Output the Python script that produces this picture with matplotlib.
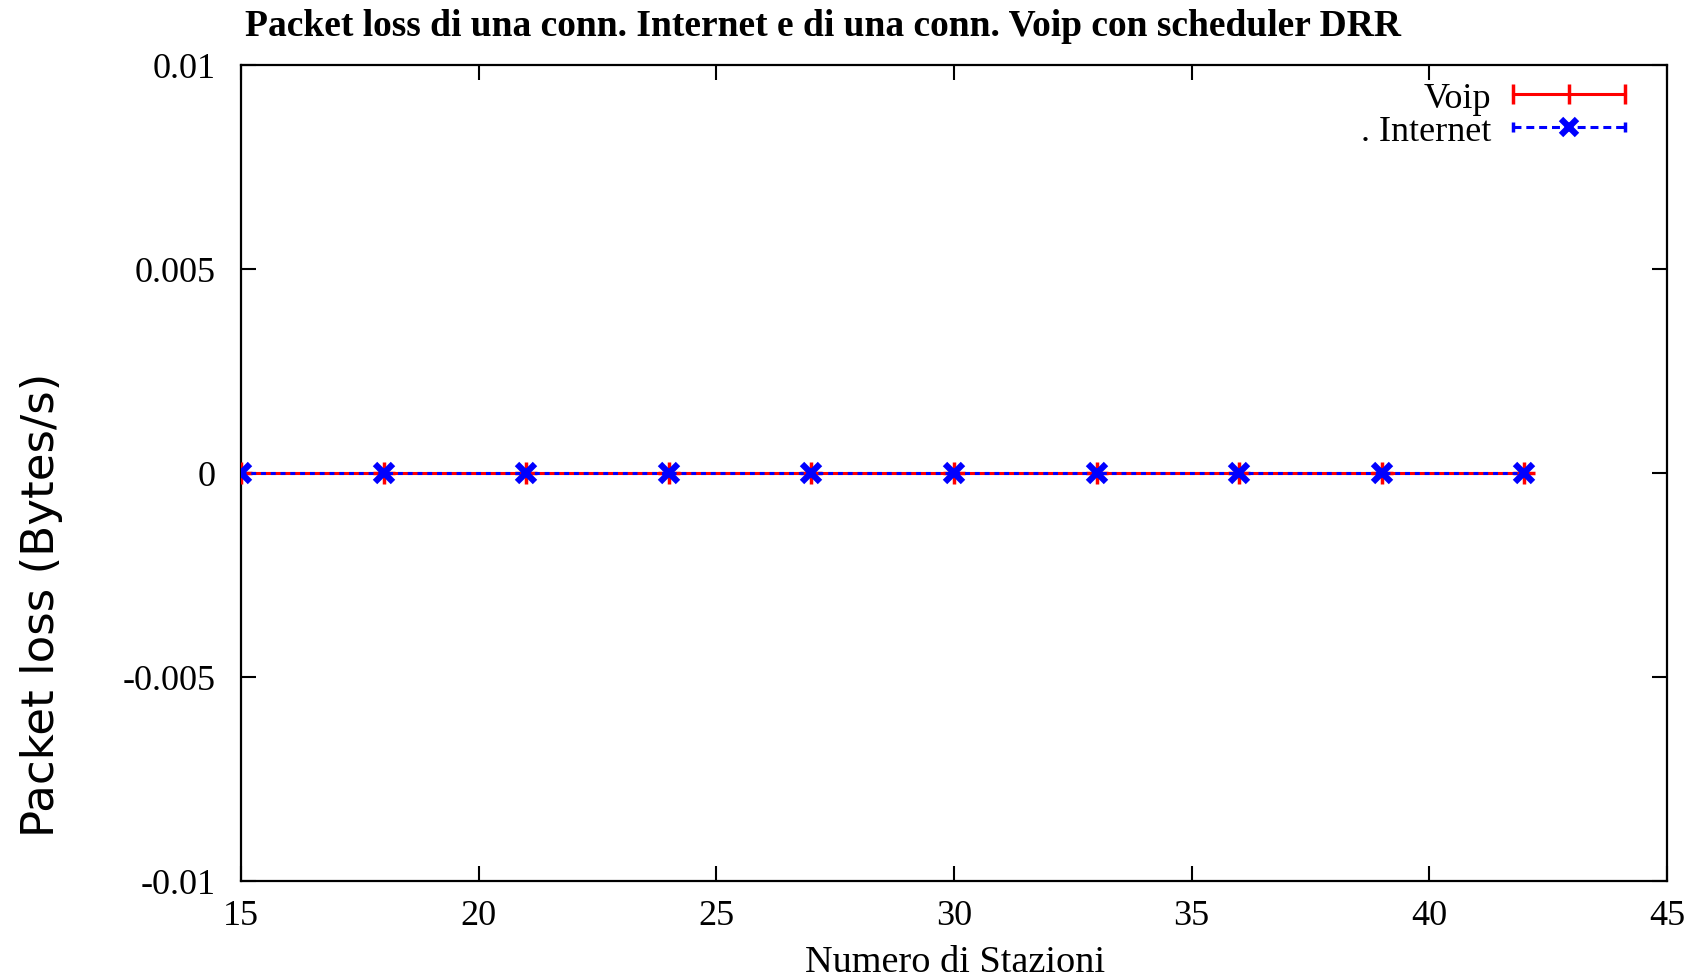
import matplotlib
matplotlib.use("Agg")
import matplotlib.pyplot as plt
from matplotlib.legend_handler import HandlerLine2D, HandlerTuple
from matplotlib.lines import Line2D

# Data: packet loss for each number of stations
stations = [15, 18, 21, 24, 27, 30, 33, 36, 39, 42]
voip_loss = [0, 0, 0, 0, 0, 0, 0, 0, 0, 0]
internet_loss = [0, 0, 0, 0, 0, 0, 0, 0, 0, 0]

x_ticks = [15, 20, 25, 30, 35, 40, 45]
y_ticks = [-0.01, -0.005, 0, 0.005, 0.01]
y_tick_labels = ["-0.01", "-0.005", "0", "0.005", "0.01"]

title = "Packet loss di una conn. Internet e di una conn. Voip con scheduler DRR"
x_label = "Numero di Stazioni"
y_label = "Packet loss (Bytes/s)"

serif = ["Liberation Serif", "DejaVu Serif"]

fig = plt.figure(figsize=(17.04, 9.79), dpi=100)
ax = fig.add_axes([0.1414, 0.0991, 0.8369, 0.8335])

ax.plot(stations, voip_loss, color="#ff0000", lw=2.2, marker="+",
        ms=16, mew=2.5, zorder=3)
ax.plot(stations, internet_loss, color="#0000ff", lw=2.2,
        dashes=(1.6, 1.6), marker="x", ms=13, mew=4.5, zorder=4)

ax.set_xlim(15, 45)
ax.set_ylim(-0.01, 0.01)
ax.set_xticks(x_ticks)
ax.set_xticklabels([str(v) for v in x_ticks])
ax.set_yticks(y_ticks)
ax.set_yticklabels(y_tick_labels)
ax.minorticks_off()

for s in ax.spines.values():
    s.set_linewidth(1.6)
    s.set_color("black")
ax.tick_params(direction="in", length=11, width=1.5, top=True, right=True,
               labelsize=26, colors="black")
ax.tick_params(axis="x", pad=13)
ax.tick_params(axis="y", pad=18)
for lab in ax.get_xticklabels() + ax.get_yticklabels():
    lab.set_family(serif)

# Legend entries drawn in gnuplot style: label on the left, sample on the right
h_voip = Line2D([], [], color="#ff0000", lw=2.2, marker="|", ms=14, mew=2.5)
h_int_line = Line2D([], [], color="#0000ff", lw=2.2, dashes=(2.6, 1.6),
                    marker="|", ms=7, mew=2.5)
h_int_mark = Line2D([], [], color="#0000ff", lw=0, marker="x", ms=11, mew=4.5)
leg = ax.legend([h_voip, (h_int_line, h_int_mark)], ["Voip", ". Internet"],
                handler_map={h_voip: HandlerLine2D(numpoints=3, marker_pad=0),
                             h_int_line: HandlerLine2D(numpoints=2, marker_pad=0),
                             h_int_mark: HandlerLine2D(numpoints=1),
                             tuple: HandlerTuple(ndivide=1, pad=0)},
                loc="upper right", bbox_to_anchor=(0.9705, 0.98),
                markerfirst=False, frameon=False, handlelength=3.1,
                handletextpad=0.6, labelspacing=0.0, borderpad=0,
                borderaxespad=0, prop={"family": serif, "size": 26})
for t in leg.get_texts():
    t.set_ha("right")

fig.text(0.483, 0.973, title, ha="center", va="center", fontsize=27,
         fontweight="bold", family=serif)
fig.text(0.5604, 0.0163, x_label, ha="center", va="center", fontsize=27.5,
         family=serif)
fig.text(0.0245, 0.382, y_label, ha="center", va="center", rotation=90,
         fontsize=32.5, family=["DejaVu Sans"])

fig.savefig("out.png", dpi=100)
